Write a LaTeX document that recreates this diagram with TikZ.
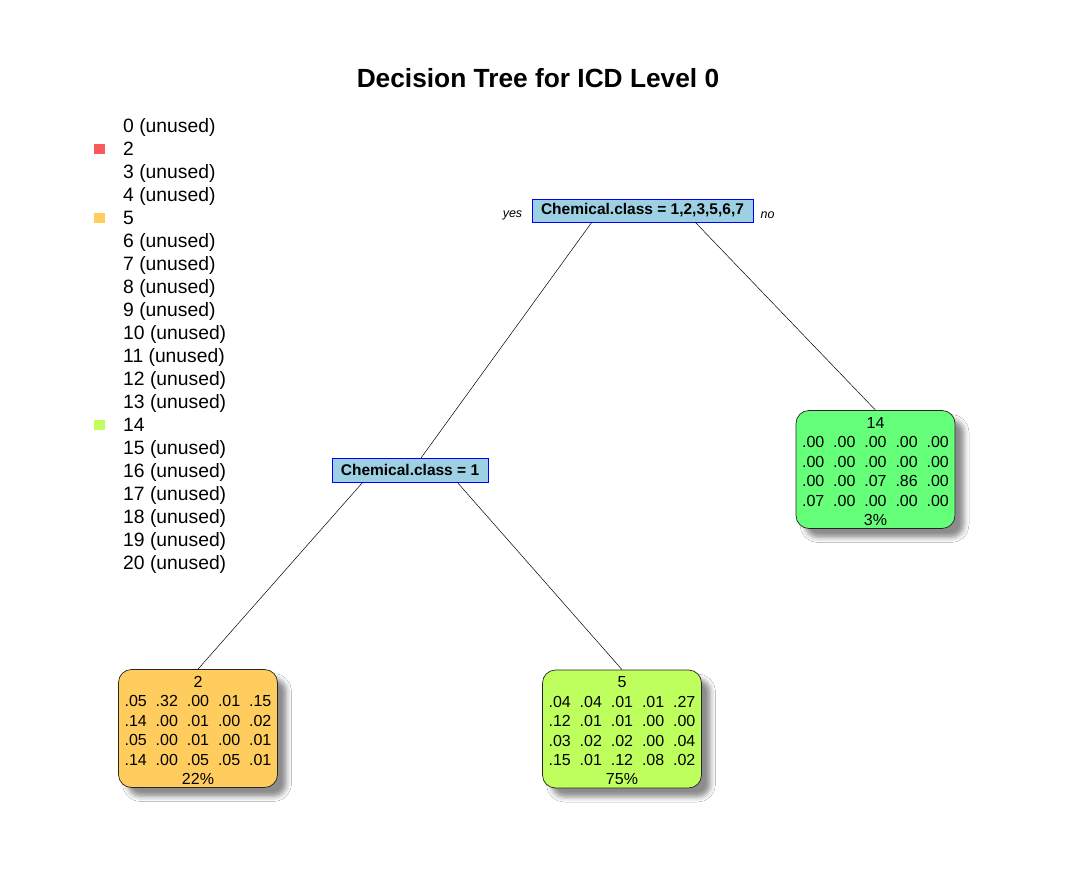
\documentclass[tikz,border=0pt]{standalone}
\usepackage{fontspec}
\setmainfont{Liberation Sans}
\usetikzlibrary{shadows.blur}
\definecolor{legred}{RGB}{250,90,92}
\definecolor{legorange}{RGB}{255,204,94}
\definecolor{leglime}{RGB}{190,255,94}
\definecolor{leafgreen}{RGB}{102,255,122}
\definecolor{splitblue}{RGB}{158,208,228}
\newcommand\rw[5]{#1\hspace{0.556em}#2\hspace{0.556em}#3\hspace{0.556em}#4\hspace{0.556em}#5}
\tikzset{
  legtext/.style={anchor=base west, inner sep=0pt, font=\fontsize{19.3}{22}\selectfont},
  legsq/.style={minimum width=11pt, minimum height=10pt, inner sep=0pt},
  splitbox/.style={draw=blue, line width=0.7pt, fill=splitblue, inner sep=0pt,
    font=\fontsize{15.5}{18}\selectfont\bfseries},
  leafbox/.style={draw=black!85, line width=0.7pt, rounded corners=13pt, inner sep=0pt,
    minimum width=159pt, minimum height=118pt,
    blur shadow={shadow xshift=9pt, shadow yshift=-9pt, shadow blur radius=5pt, shadow opacity=45}},
  leaftext/.style={inner sep=0pt, align=center, font=\fontsize{16}{19.4}\selectfont},
  branch/.style={draw=black, line width=0.5pt},
  yesno/.style={inner sep=0pt, font=\fontsize{12.5}{14}\selectfont\itshape}
}
\begin{document}
\begin{tikzpicture}[x=1pt,y=-1pt]
\useasboundingbox[fill=white] (0,0) rectangle (1074,888);
% title
\node[anchor=base, inner sep=0pt, font=\fontsize{26.3}{30}\selectfont\bfseries] (title) at (538,88) {Decision Tree for ICD Level 0};
% legend
\foreach \lab [count=\k from 0] in {0 (unused),2,3 (unused),4 (unused),5,6 (unused),7 (unused),8 (unused),9 (unused),10 (unused),11 (unused),12 (unused),13 (unused),14,15 (unused),16 (unused),17 (unused),18 (unused),19 (unused),20 (unused)}{
  \node[legtext] (leg\k) at (123,{126+23*\k+6.8}) {\lab};
}
\node[legsq, fill=legred] (sq2) at (99,149) {};
\node[legsq, fill=legorange] (sq5) at (99,218) {};
\node[legsq, fill=leglime] (sq14) at (99,425) {};
% split nodes
\node[splitbox, minimum width=221pt, minimum height=23pt] (top) at (642.5,210.5) {Chemical.class = 1,2,3,5,6,7};
\node[yesno] (yes) at (512.5,215.5) {yes};
\node[yesno] (no) at (767.5,215.5) {no};
\node[splitbox, minimum width=156pt, minimum height=24pt] (mid) at (410,470) {Chemical.class = 1};
% leaves
\node[leafbox, fill=leafgreen] (leaf14) at (875.5,469.5) {};
\node[leaftext] (leaf14txt) at (875.5,471.5) {14\\\rw{.00}{.00}{.00}{.00}{.00}\\\rw{.00}{.00}{.00}{.00}{.00}\\\rw{.00}{.00}{.07}{.86}{.00}\\\rw{.07}{.00}{.00}{.00}{.00}\\3\%};
\node[leafbox, fill=legorange] (leaf2) at (198,728.5) {};
\node[leaftext] (leaf2txt) at (198,730.5) {2\\\rw{.05}{.32}{.00}{.01}{.15}\\\rw{.14}{.00}{.01}{.00}{.02}\\\rw{.05}{.00}{.01}{.00}{.01}\\\rw{.14}{.00}{.05}{.05}{.01}\\22\%};
\node[leafbox, fill=leglime] (leaf5) at (622,729) {};
\node[leaftext] (leaf5txt) at (622,731) {5\\\rw{.04}{.04}{.01}{.01}{.27}\\\rw{.12}{.01}{.01}{.00}{.00}\\\rw{.03}{.02}{.02}{.00}{.04}\\\rw{.15}{.01}{.12}{.08}{.02}\\75\%};
% branch end points
\coordinate (topL) at (592,222);
\coordinate (topR) at (695,222);
\coordinate (midT) at (421,458);
\coordinate (midL) at (363,482);
\coordinate (midR) at (457,482);
\draw[branch] (topL) -- (midT);
\draw[branch] (topR) -- (leaf14.north);
\draw[branch] (midL) -- (leaf2.north);
\draw[branch] (midR) -- (leaf5.north);
\end{tikzpicture}
\end{document}
